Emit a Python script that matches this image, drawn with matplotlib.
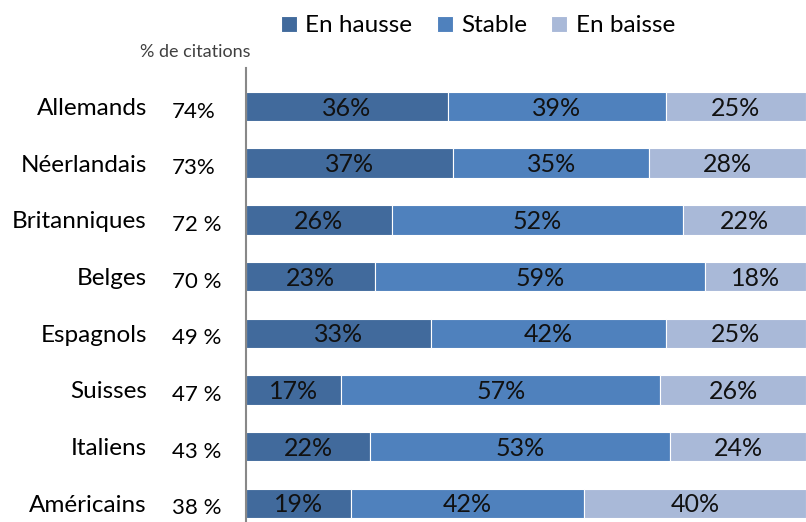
import matplotlib.pyplot as plt
import numpy as np

plt.rcParams['font.family'] = ['Lato', 'DejaVu Sans']

# data
pays = ['Allemands', 'Néerlandais', 'Britanniques', 'Belges',
        'Espagnols', 'Suisses', 'Italiens', 'Américains']
citations = ['74%', '73%', '72 %', '70 %', '49 %', '47 %', '43 %', '38 %']
hausse = [36, 37, 26, 23, 33, 17, 22, 19]
stable = [39, 35, 52, 59, 42, 57, 53, 42]
baisse = [25, 28, 22, 18, 25, 26, 24, 40]

series = ['En hausse', 'Stable', 'En baisse']
colors = ['#416A9C', '#4F81BD', '#A9B9D8']

fig = plt.figure(figsize=(8.06, 5.22), dpi=100)
ax = fig.add_axes([246 / 806, 0, 560 / 806, 454 / 522])

# 100% stacked : chaque barre est ramenee a 100
totals = np.array(hausse) + np.array(stable) + np.array(baisse)
y = np.arange(len(pays))
left = np.zeros(len(pays))
for vals, name, col in zip([hausse, stable, baisse], series, colors):
    widths = np.array(vals) / totals * 100
    bars = ax.barh(y, widths, left=left, height=0.52, color=col,
                   edgecolor='white', linewidth=0.8, label=name)
    for b, v in zip(bars, vals):
        ax.text(b.get_x() + b.get_width() / 2, b.get_y() + b.get_height() / 2 + 0.03,
                f'{v}%', ha='center', va='center', fontsize=18, color='#111111')
    left += widths

ax.set_xlim(0, 100)
ax.set_ylim(7.33, -0.68)
ax.set_xticks([])
ax.set_yticks([])
for s in ['top', 'right', 'bottom']:
    ax.spines[s].set_visible(False)
ax.spines['left'].set_color('#888888')
ax.spines['left'].set_linewidth(1.5)

# category names and % de citations
for i, (p, c) in enumerate(zip(pays, citations)):
    yy = (108.5 + i * 56.7) / 522
    fig.text(147 / 806, 1 - yy, p, ha='right', va='center', fontsize=17.5)
    fig.text(172 / 806, 1 - (yy + 3 / 522), c, ha='left', va='center', fontsize=16)

fig.text(140 / 806, 1 - 52 / 522, '% de citations', ha='left', va='center',
         fontsize=13, color='#404040')

fig.legend(loc='center', bbox_to_anchor=(478 / 806, 1 - 26 / 522), ncol=3,
           frameon=False, fontsize=17.5, handlelength=0.65, handleheight=0.65,
           handletextpad=0.35, columnspacing=1.0)

fig.savefig('out.png', dpi=100)
